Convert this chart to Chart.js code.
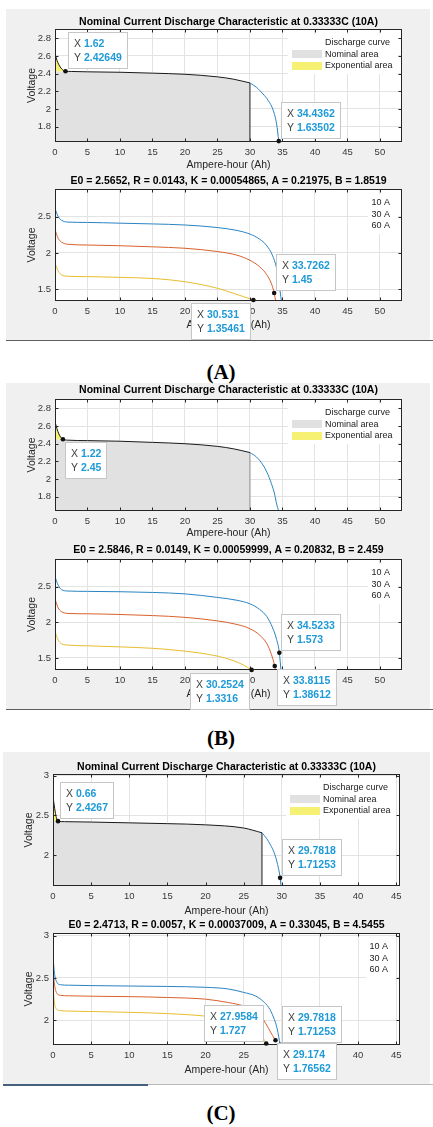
<!DOCTYPE html>
<html>
<head>
<meta charset="utf-8">
<script src="https://cdn.jsdelivr.net/npm/chart.js@4.4.1/dist/chart.umd.min.js"></script>
<style>
  body { margin: 0; background: #fff; width: 433px; height: 1127px; position: relative; overflow: hidden; }
  .panel { position: absolute; background: #f0f0f0; }
  .rule { position: absolute; height: 1px; }
  canvas { position: absolute; }
  .cap { position: absolute; width: 80px; text-align: center; font-family: 'Liberation Serif', 'Times New Roman', serif;
         font-weight: bold; font-size: 21px; line-height: 24px; color: #000; }
</style>
</head>
<body>
<div class="panel" style="left:6px;top:9px;width:424px;height:331px"></div>
<div class="rule" style="left:6px;top:340px;width:427px;background:#5f5f5f"></div>
<div class="panel" style="left:6px;top:383px;width:424px;height:326px"></div>
<div class="rule" style="left:6px;top:709px;width:427px;background:#5f5f5f"></div>
<div class="panel" style="left:3px;top:752px;width:427px;height:332px"></div>
<div class="rule" style="left:3px;top:1084px;width:145px;height:2px;background:#46627e"></div>
<div class="rule" style="left:148px;top:1084px;width:285px;background:#b8b8b8"></div>

<div class="cap" style="left:181px;top:360px">(A)</div>
<div class="cap" style="left:181px;top:726px">(B)</div>
<div class="cap" style="left:181px;top:1101px">(C)</div>

<canvas id="cA1"></canvas>
<canvas id="cA2"></canvas>
<canvas id="cB1"></canvas>
<canvas id="cB2"></canvas>
<canvas id="cC1"></canvas>
<canvas id="cC2"></canvas>

<script>
// ---- axes ----
const xTicksAB = [0, 5, 10, 15, 20, 25, 30, 35, 40, 45, 50];
const xTicksC = [0, 5, 10, 15, 20, 25, 30, 35, 40, 45];
const xRangeAB = [0, 53.4];
const xRangeC = [0, 45.5];
const topTicksAB = [1.8, 2, 2.2, 2.4, 2.6, 2.8];
const botTicksAB = [1.5, 2, 2.5];
const ticksC = [2, 2.5, 3];

const topTitle = 'Nominal Current Discharge Characteristic at 0.33333C (10A)';
const topLegend = ['Discharge curve', 'Nominal area', 'Exponential area'];
const botLegend = ['10 A', '30 A', '60 A'];

// ---- (A) ----
const aTopRange = [1.625, 2.905];
const aTopAh = [0, 0.3, 0.6, 1.0, 1.62, 2.5, 5, 10, 15, 20, 25, 27.5, 30];
const aTopV = [2.63, 2.55, 2.5, 2.455, 2.42649, 2.424, 2.42, 2.415, 2.405, 2.392, 2.363, 2.336, 2.294];
const aTailAh = [30, 31, 31.5, 32, 32.8, 33.6, 34.1, 34.4362];
const aTailV = [2.294, 2.245, 2.21, 2.17, 2.097, 1.98, 1.83, 1.63502];
const aNomEnd = 30;
const aExp = [1.62, 2.42649];
const aTopTipAh = [1.62, 34.4362];
const aTopTipV = [2.42649, 1.63502];

const aBotTitle = 'E0 = 2.5652, R = 0.0143, K = 0.00054865, A = 0.21975, B = 1.8519';
const aBotRange = [1.34, 2.88];
const aAh10 = [0, 0.5, 1, 2, 5, 10, 15, 20, 25, 28, 30, 31.5, 32.5, 33.5, 34.2, 34.6, 34.9];
const aV10 = [2.61, 2.5, 2.45, 2.425, 2.42, 2.41, 2.4, 2.385, 2.35, 2.31, 2.26, 2.19, 2.11, 1.96, 1.75, 1.5, 1.3];
const aAh30 = [0, 0.5, 1, 2, 5, 10, 15, 20, 25, 28, 30, 31.5, 32.6, 33.3, 33.7262, 34.0];
const aV30 = [2.32, 2.2, 2.15, 2.12, 2.11, 2.1, 2.085, 2.065, 2.02, 1.97, 1.9, 1.81, 1.7, 1.58, 1.45, 1.32];
const aAh60 = [0, 0.5, 1, 2, 5, 10, 15, 20, 25, 27.5, 29, 30.531];
const aV60 = [1.86, 1.75, 1.7, 1.68, 1.675, 1.665, 1.65, 1.605, 1.515, 1.445, 1.4, 1.35461];
const aBotTipAh = [33.7262, 30.531];
const aBotTipV = [1.45, 1.35461];

// ---- (B) ----
const bTopRange = [1.64, 2.905];
const bTopAh = [0, 0.3, 0.6, 0.9, 1.22, 2, 5, 10, 15, 20, 25, 27.5, 30];
const bTopV = [2.65, 2.57, 2.51, 2.47, 2.45, 2.44, 2.435, 2.428, 2.415, 2.4, 2.37, 2.342, 2.3];
const bTailAh = [30, 31, 32, 32.6, 33.3, 33.8, 34.1, 34.4, 34.6];
const bTailV = [2.3, 2.25, 2.16, 2.08, 1.95, 1.83, 1.72, 1.64, 1.55];
const bNomEnd = 30;
const bExp = [1.22, 2.45];
const bTopTipAh = [1.22];
const bTopTipV = [2.45];

const bBotTitle = 'E0 = 2.5846, R = 0.0149, K = 0.00059999, A = 0.20832, B = 2.459';
const bBotRange = [1.33, 2.89];
const bAh10 = [0, 0.5, 1, 2, 5, 10, 15, 20, 25, 28, 30, 31.5, 32.6, 33.5, 34.1, 34.5233, 34.8];
const bV10 = [2.64, 2.52, 2.46, 2.44, 2.435, 2.43, 2.42, 2.4, 2.35, 2.31, 2.26, 2.18, 2.08, 1.92, 1.76, 1.573, 1.3];
const bAh30 = [0, 0.5, 1, 2, 5, 10, 15, 20, 25, 28, 30, 31.5, 32.6, 33.3, 33.8115, 34.0];
const bV30 = [2.33, 2.2, 2.15, 2.125, 2.12, 2.11, 2.095, 2.07, 2.02, 1.97, 1.91, 1.82, 1.7, 1.55, 1.38612, 1.3];
const bAh60 = [0, 0.5, 1, 2, 5, 10, 15, 20, 25, 27.5, 29, 30.2524];
const bV60 = [1.865, 1.75, 1.7, 1.68, 1.67, 1.655, 1.635, 1.595, 1.525, 1.46, 1.4, 1.3316];
const bBotTipAh = [34.5233, 30.2524, 33.8115];
const bBotTipV = [1.573, 1.3316, 1.38612];

// ---- (C) ----
const cTopRange = [1.61, 3.02];
const cTopAh = [0, 0.15, 0.3, 0.45, 0.66, 1.5, 5, 10, 15, 20, 25, 27.4];
const cTopV = [2.74, 2.63, 2.54, 2.47, 2.4267, 2.42, 2.415, 2.405, 2.395, 2.38, 2.34, 2.28];
const cTailAh = [27.4, 28, 28.5, 29, 29.4, 29.7818, 29.9];
const cTailV = [2.28, 2.21, 2.13, 2.03, 1.9, 1.71253, 1.6];
const cNomEnd = 27.4;
const cExp = [0.66, 2.4267];
const cTopTipAh = [0.66, 29.7818];
const cTopTipV = [2.4267, 1.71253];

const cBotTitle = 'E0 = 2.4713, R = 0.0057, K = 0.00037009, A = 0.33045, B = 4.5455';
const cBotRange = [1.71, 3.03];
const cAh10 = [0, 0.2, 0.5, 1, 2, 5, 10, 15, 20, 23, 25, 26.5, 27.5, 28.3, 28.9, 29.4, 29.7818];
const cV10 = [2.75, 2.55, 2.45, 2.42, 2.415, 2.41, 2.405, 2.4, 2.39, 2.37, 2.33, 2.29, 2.23, 2.15, 2.04, 1.9, 1.71253];
const cAh30 = [0, 0.2, 0.5, 1, 2, 5, 10, 15, 20, 23, 25, 26.5, 27.5, 28.3, 28.8, 29.174];
const cV30 = [2.6, 2.42, 2.32, 2.295, 2.29, 2.285, 2.28, 2.27, 2.25, 2.21, 2.17, 2.11, 2.02, 1.9, 1.82, 1.76562];
const cAh60 = [0, 0.2, 0.5, 1, 2, 5, 10, 15, 20, 23, 25, 26.5, 27.5, 27.9584];
const cV60 = [2.42, 2.2, 2.13, 2.115, 2.11, 2.105, 2.095, 2.08, 2.05, 2.01, 1.97, 1.9, 1.8, 1.727];
const cBotTipAh = [27.9584, 29.7818, 29.174];
const cBotTipV = [1.727, 1.71253, 1.76562];

// ---- styling ----
const FONT = "'Liberation Sans', Arial, Helvetica, sans-serif";
const BLUE = '#2a84c2';
const ORANGE = '#d9612c';
const YELLOW = '#e7bd2e';
const NOMINAL = '#e1e1e1';
const EXPO = '#f6f172';
const TIPBLUE = '#1e9ad8';

const pts = (xs, ys) => xs.map((x, i) => ({ x: x, y: ys[i] }));

function curve(label, data, color) {
    return { label: label, data: data, borderColor: color, borderWidth: 1, fill: false, pointRadius: 0 };
}

function topDatasets(ah, v, tailAh, tailV, nomEnd, exp, yMin, edgeColor) {
    const main = pts(ah, v);
    const expPts = main.filter(p => p.x <= exp[0]);
    const nomPts = [{ x: 0, y: exp[1] }].concat(main.filter(p => p.x >= exp[0]));
    return [
        curve(topLegend[0], main, '#1a1a1a'),
        curve('', pts(tailAh, tailV), BLUE),
        { label: '', data: [{ x: nomEnd, y: yMin }, { x: nomEnd, y: v[v.length - 1] }],
          borderColor: edgeColor, borderWidth: 1, tension: 0, cubicInterpolationMode: 'default', pointRadius: 0 },
        { label: topLegend[2], data: expPts, fill: { value: exp[1] }, backgroundColor: EXPO,
          borderWidth: 0, borderColor: 'rgba(0,0,0,0)', pointRadius: 0 },
        { label: topLegend[1], data: nomPts, fill: 'start', backgroundColor: NOMINAL,
          borderWidth: 0, borderColor: 'rgba(0,0,0,0)', pointRadius: 0 }
    ];
}

function botDatasets(a10, v10, a30, v30, a60, v60) {
    return [
        curve(botLegend[0], pts(a10, v10), BLUE),
        curve(botLegend[1], pts(a30, v30), ORANGE),
        curve(botLegend[2], pts(a60, v60), YELLOW)
    ];
}

// white plot area, MATLAB style box with inner tick marks
const axesBox = {
    id: 'axesBox',
    beforeDraw(chart) {
        const a = chart.chartArea, ctx = chart.ctx;
        ctx.save();
        ctx.fillStyle = '#ffffff';
        ctx.fillRect(a.left, a.top, a.right - a.left, a.bottom - a.top);
        ctx.restore();
    },
    afterDatasetsDraw(chart) {
        const a = chart.chartArea, ctx = chart.ctx;
        const L = Math.round(a.left) + 0.5, R = Math.round(a.right) - 0.5;
        const T = Math.round(a.top) + 0.5, B = Math.round(a.bottom) - 0.5;
        ctx.save();
        ctx.strokeStyle = '#262626';
        ctx.lineWidth = 1;
        ctx.beginPath();
        chart.scales.x.ticks.forEach(t => {
            const x = Math.round(chart.scales.x.getPixelForValue(t.value)) + 0.5;
            ctx.moveTo(x, T); ctx.lineTo(x, T + 3);
            ctx.moveTo(x, B); ctx.lineTo(x, B - 3);
        });
        chart.scales.y.ticks.forEach(t => {
            const y = Math.round(chart.scales.y.getPixelForValue(t.value)) + 0.5;
            ctx.moveTo(L, y); ctx.lineTo(L + 3, y);
            ctx.moveTo(R, y); ctx.lineTo(R - 3, y);
        });
        ctx.stroke();
        ctx.strokeRect(L, T, R - L, B - T);
        ctx.restore();
    }
};

function legendPlugin(withSwatches) {
    return {
        id: 'panelLegend',
        afterDatasetsDraw(chart) {
            const a = chart.chartArea, ctx = chart.ctx;
            const names = withSwatches ? topLegend : botLegend;
            const colors = withSwatches ? [null, NOMINAL, EXPO] : [null, null, null];
            ctx.save();
            ctx.fillStyle = '#ffffff';
            if (withSwatches) ctx.fillRect(a.right - 114, a.top + 5, 110, 40);
            else ctx.fillRect(a.right - 34, a.top + 5, 30, 40);
            ctx.font = '9px ' + FONT;
            ctx.textBaseline = 'middle';
            names.forEach((name, i) => {
                const y = a.top + 13.5 + i * 11.7;
                if (withSwatches) {
                    if (colors[i]) {
                        ctx.fillStyle = colors[i];
                        ctx.fillRect(a.right - 110, Math.round(y) - 4, 30, 8);
                    }
                    ctx.fillStyle = '#1a1a1a';
                    ctx.textAlign = 'left';
                    ctx.fillText(name, a.right - 77, y);
                } else {
                    ctx.fillStyle = '#1a1a1a';
                    ctx.textAlign = 'right';
                    ctx.fillText(name, a.right - 12, y);
                }
            });
            ctx.restore();
        }
    };
}

function tipsPlugin(tipAh, tipV, place) {
    return {
        id: 'dataTips',
        afterDraw(chart) {
            const ctx = chart.ctx, xs = chart.scales.x, ys = chart.scales.y;
            tipAh.forEach((ah, i) => {
                const v = tipV[i];
                const px = xs.getPixelForValue(ah), py = ys.getPixelForValue(v);
                const tx = String(ah), ty = String(v);
                ctx.save();
                ctx.font = '10.5px ' + FONT;
                const wl = Math.max(ctx.measureText('X ').width, ctx.measureText('Y ').width);
                ctx.font = 'bold 10.5px ' + FONT;
                const wv = Math.max(ctx.measureText(tx).width, ctx.measureText(ty).width);
                const bw = Math.round(wl + wv + 12), bh = 37;
                const bx = Math.round(place[i][1] === 'e' ? px + 2 : px - 2 - bw);
                const by = Math.round(place[i][0] === 'n' ? py - 2 - bh : py + 3);
                ctx.fillStyle = '#ffffff';
                ctx.fillRect(bx, by, bw, bh);
                ctx.strokeStyle = '#c6c6c6';
                ctx.lineWidth = 1;
                ctx.strokeRect(bx + 0.5, by + 0.5, bw - 1, bh - 1);
                ctx.textBaseline = 'middle';
                ctx.textAlign = 'left';
                ctx.font = '10.5px ' + FONT;
                ctx.fillStyle = '#404040';
                ctx.fillText('X ', bx + 6, by + 12);
                ctx.fillText('Y ', bx + 6, by + 26);
                ctx.font = 'bold 10.5px ' + FONT;
                ctx.fillStyle = TIPBLUE;
                ctx.fillText(tx, bx + 6 + wl, by + 12);
                ctx.fillText(ty, bx + 6 + wl, by + 26);
                ctx.fillStyle = '#111';
                ctx.beginPath();
                ctx.arc(px, py, 2.3, 0, Math.PI * 2);
                ctx.fill();
                ctx.restore();
            });
        }
    };
}

function makeChart(id, f, datasets, yRange, yTicks, xRange, xTicks, title, plugins) {
    const titleLH = 12.6, axisLH = 12.6;
    const canvasTop = Math.round(f.titleY - 8);
    const axisBottom = f.labelY + axisLH / 2 - canvasTop;
    const height = Math.ceil(axisBottom + 18);
    const width = f.right - f.left;
    const cv = document.getElementById(id);
    cv.width = width;
    cv.height = height;
    cv.style.left = f.left + 'px';
    cv.style.top = canvasTop + 'px';

    const tickFont = { family: FONT, size: 9.5 };
    const labelFont = { family: FONT, size: 10.5 };

    new Chart(cv.getContext('2d'), {
        type: 'line',
        data: { datasets: datasets },
        options: {
            responsive: false,
            animation: false,
            events: [],
            layout: { padding: { left: 0, top: 0, right: f.right - f.plotR, bottom: height - axisBottom } },
            elements: { point: { radius: 0 }, line: { borderWidth: 1, cubicInterpolationMode: 'monotone' } },
            scales: {
                x: {
                    type: 'linear',
                    min: xRange[0],
                    max: xRange[1],
                    afterBuildTicks: s => { s.ticks = xTicks.map(v => ({ value: v })); },
                    afterFit: s => { s.height = f.labelY + axisLH / 2 - f.plotB; },
                    grid: { color: '#e3e3e3', drawTicks: false },
                    border: { display: false },
                    ticks: { padding: 5, font: tickFont, color: '#383838', autoSkip: false, maxRotation: 0,
                             callback: v => String(v) },
                    title: { display: true, text: 'Ampere-hour (Ah)', font: labelFont, color: '#262626',
                             padding: { top: 0, bottom: 0 } }
                },
                y: {
                    type: 'linear',
                    min: yRange[0],
                    max: yRange[1],
                    afterBuildTicks: s => { s.ticks = yTicks.map(v => ({ value: v })); },
                    afterFit: s => { s.width = f.plotL - f.left; },
                    grid: { color: '#e3e3e3', drawTicks: false },
                    border: { display: false },
                    ticks: { padding: 4, font: tickFont, color: '#383838', autoSkip: false,
                             callback: v => String(v) },
                    title: { display: true, text: 'Voltage', font: labelFont, color: '#262626',
                             padding: { top: f.voltX - f.left - axisLH / 2, bottom: 0 } }
                }
            },
            plugins: {
                legend: { display: false },
                tooltip: { enabled: false },
                title: {
                    display: true,
                    fullSize: false,
                    text: title,
                    color: '#000',
                    font: { family: FONT, size: 10.5, weight: 'bold' },
                    padding: { top: f.titleY - titleLH / 2 - canvasTop, bottom: f.plotT - f.titleY - titleLH / 2 }
                }
            }
        },
        plugins: [axesBox].concat(plugins)
    });
}

const frames = {
    A1: { left: 6, right: 430, plotL: 55, plotR: 402, plotT: 29, plotB: 142, titleY: 22, labelY: 165, voltX: 32 },
    A2: { left: 6, right: 430, plotL: 55, plotR: 402, plotT: 189, plotB: 301, titleY: 181, labelY: 325, voltX: 32 },
    B1: { left: 6, right: 430, plotL: 55, plotR: 402, plotT: 399, plotB: 511, titleY: 390, labelY: 533, voltX: 32 },
    B2: { left: 6, right: 430, plotL: 55, plotR: 402, plotT: 559, plotB: 670, titleY: 550, labelY: 694, voltX: 32 },
    C1: { left: 3, right: 430, plotL: 53, plotR: 400, plotT: 774, plotB: 886, titleY: 767, labelY: 911, voltX: 29 },
    C2: { left: 3, right: 430, plotL: 53, plotR: 400, plotT: 933, plotB: 1045, titleY: 925, labelY: 1070, voltX: 29 }
};

document.addEventListener('DOMContentLoaded', function () {
    makeChart('cA1', frames.A1,
        topDatasets(aTopAh, aTopV, aTailAh, aTailV, aNomEnd, aExp, aTopRange[0], '#1a1a1a'),
        aTopRange, topTicksAB, xRangeAB, xTicksAB, topTitle,
        [legendPlugin(true), tipsPlugin(aTopTipAh, aTopTipV, ['ne', 'ne'])]);

    makeChart('cA2', frames.A2,
        botDatasets(aAh10, aV10, aAh30, aV30, aAh60, aV60),
        aBotRange, botTicksAB, xRangeAB, xTicksAB, aBotTitle,
        [legendPlugin(false), tipsPlugin(aBotTipAh, aBotTipV, ['ne', 'sw'])]);

    makeChart('cB1', frames.B1,
        topDatasets(bTopAh, bTopV, bTailAh, bTailV, bNomEnd, bExp, bTopRange[0], '#8a8a8a'),
        bTopRange, topTicksAB, xRangeAB, xTicksAB, topTitle,
        [legendPlugin(true), tipsPlugin(bTopTipAh, bTopTipV, ['se'])]);

    makeChart('cB2', frames.B2,
        botDatasets(bAh10, bV10, bAh30, bV30, bAh60, bV60),
        bBotRange, botTicksAB, xRangeAB, xTicksAB, bBotTitle,
        [legendPlugin(false), tipsPlugin(bBotTipAh, bBotTipV, ['ne', 'sw', 'se'])]);

    makeChart('cC1', frames.C1,
        topDatasets(cTopAh, cTopV, cTailAh, cTailV, cNomEnd, cExp, cTopRange[0], '#1a1a1a'),
        cTopRange, ticksC, xRangeC, xTicksC, topTitle,
        [legendPlugin(true), tipsPlugin(cTopTipAh, cTopTipV, ['ne', 'ne'])]);

    makeChart('cC2', frames.C2,
        botDatasets(cAh10, cV10, cAh30, cV30, cAh60, cV60),
        cBotRange, ticksC, xRangeC, xTicksC, cBotTitle,
        [legendPlugin(false), tipsPlugin(cBotTipAh, cBotTipV, ['nw', 'ne', 'se'])]);
});
</script>
</body>
</html>
